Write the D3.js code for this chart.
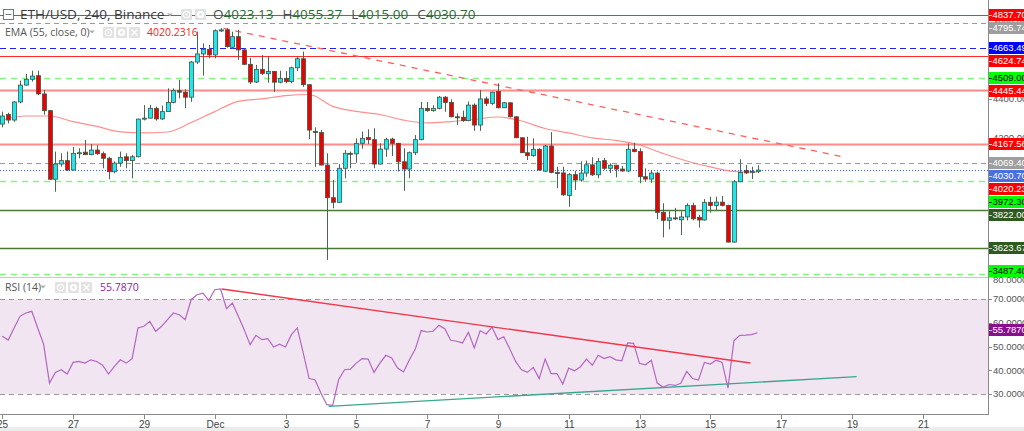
<!DOCTYPE html>
<html>
<head>
<meta charset="utf-8">
<script src="https://cdn.jsdelivr.net/npm/d3@7"></script>
<style>
  body { margin: 0; background: #fff; overflow: hidden; }
  svg { display: block; font-family: 'Open Sans', Roboto, 'DejaVu Sans', sans-serif; }
  .ax { font-family: 'Liberation Sans', Arial, sans-serif; }
</style>
</head>
<body>
<svg id="chart" width="1024" height="431"></svg>
<script>
// ETH/USD 4h candles, Nov 25 -> Dec 16
const opens = [
  4270,4320,4291,4385,4473,4503,4522,4427,4340,3983,
  4062,4080,4031,4118,4124,4111,4135,4116,4092,4022,
  4067,4100,4080,4100,4296,4301,4352,4297,4335,4383,
  4444,4436,4410,4593,4635,4659,4630,4756,4760,4670,
  4725,4656,4581,4489,4555,4532,4544,4488,4508,4491,
  4563,4610,4475,4232,4226,4057,3887,3863,4040,4118,
  4115,4170,4200,4189,4062,4140,4192,4170,4074,4036,
  4121,4189,4352,4340,4352,4410,4383,4308,4306,4288,
  4369,4265,4401,4378,4440,4355,4381,4308,4199,4121,
  4106,4139,4025,4156,4018,4016,3898,4007,3979,4015,
  4058,4006,4080,4040,4056,4036,4026,4139,4127,3996,
  3984,4015,3811,3769,3782,3772,3787,3846,3785,3771,
  3863,3846,3864,3847,3656,3970,4028,4020,4023.13
];
const highs = [
  4335,4329,4390,4496,4531,4548,4548,4447,4342,4127,
  4118,4127,4151,4144,4187,4166,4160,4127,4100,4076,
  4127,4118,4110,4298,4369,4369,4361,4366,4456,4456,
  4500,4451,4598,4751,4690,4682,4763,4769,4770,4751,
  4760,4664,4614,4578,4630,4619,4546,4548,4546,4569,
  4619,4647,4477,4253,4239,4118,3979,4062,4135,4127,
  4196,4231,4243,4248,4170,4199,4199,4172,4144,4127,
  4213,4385,4385,4368,4416,4416,4399,4326,4340,4387,
  4378,4447,4413,4439,4482,4385,4383,4310,4201,4204,
  4196,4144,4161,4228,4048,4048,4015,4027,4076,4080,
  4097,4094,4094,4066,4058,4052,4170,4173,4144,4040,
  4027,4022,3858,3816,3834,3816,3858,3861,3797,3880,
  3892,3892,3896,3850,3979,4087,4057,4048,4055.37
];
const lows = [
  4253,4274,4282,4378,4470,4491,4421,4319,3980,3918,
  4048,4027,4029,4092,4109,4108,4110,4040,3983,4014,
  4048,4040,3988,4097,4289,4298,4288,4291,4333,4378,
  4404,4353,4386,4583,4522,4612,4612,4749,4668,4661,
  4604,4577,4478,4484,4525,4485,4437,4482,4482,4482,
  4546,4464,4192,4048,4055,3563,3832,3860,3988,4040,
  4069,4142,4166,4040,4060,4100,4104,4023,3923,3988,
  4109,4186,4334,4334,4347,4334,4305,4265,4282,4285,
  4235,4235,4364,4369,4352,4354,4305,4197,4120,4083,
  4100,4027,4020,4014,3936,3896,3840,3927,3970,3996,
  4000,3988,4031,4015,3993,4022,4021,4123,3962,3970,
  3965,3775,3681,3722,3771,3693,3769,3769,3731,3768,
  3809,3823,3842,3654,3653,3968,4010,3984,4015.00
];
const closes = [
  4312,4291,4385,4473,4503,4520,4427,4340,3983,4062,
  4080,4031,4118,4121,4111,4135,4116,4092,4022,4067,
  4097,4080,4100,4296,4301,4352,4297,4335,4383,4444,
  4436,4410,4593,4635,4659,4630,4756,4760,4673,4725,
  4656,4581,4489,4555,4534,4544,4488,4508,4491,4563,
  4610,4475,4239,4226,4057,3887,3863,4040,4118,4115,
  4170,4196,4189,4062,4140,4189,4170,4074,4036,4121,
  4189,4352,4340,4352,4410,4383,4308,4306,4288,4369,
  4265,4401,4378,4436,4355,4381,4308,4199,4121,4106,
  4139,4031,4156,4018,4016,3902,4007,3979,4015,4058,
  4006,4076,4040,4056,4036,4026,4139,4127,3996,3984,
  4015,3811,3769,3782,3777,3787,3846,3777,3771,3863,
  3846,3864,3847,3656,3970,4018,4016,4023,4030.70
];

// EMA(55) read every 4th candle
const emaStep = 4;
const emaValues = [
  4291,4312,4312,4283,4258,4230,4224,4229,4278,4335,4388,4401,4418,4424,4362,4336,
  4320,4291,4276,4283,4294,4307,4286,4247,4224,4198,4185,4161,4117,4078,4047,4024,4020.2316
];

// RSI(14), one value per candle
const rsiValues = [
  54.3,52.7,57.8,62.7,64.1,64.8,57.8,51.0,34.6,39.1,
  40.2,38.4,43.3,43.7,43.0,44.4,43.7,42.1,38.4,41.6,
  44.4,43.0,44.9,57.8,58.5,60.6,56.4,58.5,61.3,64.1,
  63.4,61.3,69.7,71.8,72.5,69.4,73.9,74.2,65.9,68.3,
  62.7,57.1,50.8,54.7,52.9,53.3,49.8,51.0,49.8,55.0,
  57.8,47.3,36.5,36.0,30.4,25.5,25.2,36.0,40.2,40.5,
  43.0,44.9,44.7,39.1,43.0,46.3,45.2,40.9,39.3,44.4,
  48.9,56.7,56.1,56.4,58.9,57.5,52.6,52.2,51.5,56.0,
  49.4,56.7,55.3,58.2,52.9,54.1,49.1,43.7,40.2,39.1,
  41.2,36.5,44.7,38.6,38.6,34.2,40.9,39.8,41.5,44.7,
  42.1,46.3,44.9,45.7,44.4,44.0,51.5,51.3,42.9,42.3,
  44.2,34.6,32.8,34.0,33.6,34.5,39.5,36.5,35.9,43.3,
  42.6,44.2,43.3,32.5,52.4,54.7,54.8,55.0,55.787
];

// x axis: one label every 12 candles (2 days)
const dayLabels = ['25','27','29','Dec','3','5','7','9','11','13','15','17','19','21'];
const candlesPerLabel = 12;

// horizontal levels drawn on the price pane
const levelPrices = [4837.70, 4795.74, 4663.49, 4624.74, 4509.00, 4445.44, 4167.56, 4069.40, 3972.30, 3822.00, 3623.67, 3487.40];
const levelKinds  = ['res', 'grey', 'blue', 'res', 'green', 'zone', 'zone', 'grey', 'green', 'sup', 'sup', 'green'];

// trend lines as [candle index, value]
const priceTrend = [[37.5, 4768], [142.9, 4097]];
const rsiTrendDown = [[37.2, 74.2], [126.8, 43.05]];
const rsiTrendUp = [[55.3, 24.8], [144.8, 37.3]];

const priceTicks = [3600, 3800, 4000, 4200, 4400, 4600, 4800];
const rsiTicks = [30, 40, 50, 60, 70, 80];

// ---------------------------------------------------------------
const kindStyle = {
  res:   { stroke: '#ff2a2a', width: 1,   dash: null,  bg: '#ff0000', fg: '#fff' },
  grey:  { stroke: '#9a9a9a', width: 1,   dash: '5,4', bg: '#9e9e9e', fg: '#fff' },
  blue:  { stroke: '#2020ee', width: 1,   dash: '6,4', bg: '#0000ff', fg: '#fff' },
  green: { stroke: '#80f880', width: 1.6, dash: '6,5', bg: '#00ff00', fg: '#000' },
  zone:  { stroke: '#ff8a8a', width: 2,   dash: null,  bg: '#ff0000', fg: '#fff' },
  sup:   { stroke: '#4c7a34', width: 1.3, dash: null,  bg: '#2f5a1f', fg: '#fff' }
};

const plotRight = 988;
const priceBottom = 277;
const rsiTop = 278, rsiBottom = 414;

const svg = d3.select('#chart');
const defs = svg.append('defs');
defs.append('clipPath').attr('id', 'clipPrice').append('rect')
  .attr('x', 0).attr('y', 0).attr('width', plotRight).attr('height', priceBottom);
defs.append('clipPath').attr('id', 'clipRsi').append('rect')
  .attr('x', 0).attr('y', rsiTop).attr('width', plotRight).attr('height', rsiBottom - rsiTop);

const x = d3.scaleLinear().domain([0, 128]).range([2.3, 757.5]);
const y = d3.scaleLinear().domain([4837.7, 3623.67]).range([15, 248.3]);
const yr = d3.scaleLinear().domain([70, 30]).range([299, 394]);

const candles = closes.map((c, i) => ({ i, o: opens[i], h: highs[i], l: lows[i], c }));
const crisp = v => Math.round(v) + 0.5;

svg.append('rect').attr('width', 1024).attr('height', 431).attr('fill', '#fff');

// ---------------- price pane ----------------
const price = svg.append('g').attr('clip-path', 'url(#clipPrice)');

levelPrices.forEach((p, k) => {
  const s = kindStyle[levelKinds[k]];
  price.append('line')
    .attr('x1', 0).attr('x2', plotRight)
    .attr('y1', crisp(y(p))).attr('y2', crisp(y(p)))
    .attr('stroke', s.stroke).attr('stroke-width', s.width)
    .attr('stroke-dasharray', s.dash);
});

const lastClose = closes[closes.length - 1];
const lastEma = emaValues[emaValues.length - 1];
price.append('line')
  .attr('x1', 0).attr('x2', plotRight)
  .attr('y1', crisp(y(lastClose))).attr('y2', crisp(y(lastClose)))
  .attr('stroke', '#3a5bff').attr('stroke-dasharray', '1,2');

// EMA
price.append('path')
  .datum(emaValues)
  .attr('fill', 'none')
  .attr('stroke', '#ff7b7b').attr('stroke-width', 1.2).attr('stroke-opacity', 0.85)
  .attr('d', d3.line().curve(d3.curveMonotoneX).x((d, i) => x(i * emaStep)).y(d => y(d)));

// price trend line
price.append('line')
  .attr('x1', x(priceTrend[0][0])).attr('y1', y(priceTrend[0][1]))
  .attr('x2', x(priceTrend[1][0])).attr('y2', y(priceTrend[1][1]))
  .attr('stroke', '#ff5f5f').attr('stroke-width', 1.3).attr('stroke-dasharray', '6,6');

// candles
const cg = price.selectAll('g.candle').data(candles).enter().append('g').attr('class', 'candle');
cg.append('line')
  .attr('x1', d => crisp(x(d.i))).attr('x2', d => crisp(x(d.i)))
  .attr('y1', d => y(d.h)).attr('y2', d => y(d.l))
  .attr('stroke', '#4a6650').attr('stroke-width', 1);
cg.append('rect')
  .attr('x', d => Math.round(x(d.i)) - 1.5)
  .attr('width', 4)
  .attr('y', d => y(Math.max(d.o, d.c)))
  .attr('height', d => Math.max(1, Math.abs(y(d.o) - y(d.c))))
  .attr('fill', d => d.c >= d.o ? '#1ee8ee' : '#ee0000')
  .attr('stroke', '#3d5544').attr('stroke-width', 0.8);

// ---------------- rsi pane ----------------
const rsi = svg.append('g').attr('clip-path', 'url(#clipRsi)');
rsi.append('rect')
  .attr('x', 0).attr('width', plotRight)
  .attr('y', yr(70)).attr('height', yr(30) - yr(70))
  .attr('fill', '#f2e5f2');
[70, 30].forEach(v => {
  rsi.append('line').attr('x1', 0).attr('x2', plotRight)
    .attr('y1', crisp(yr(v))).attr('y2', crisp(yr(v)))
    .attr('stroke', '#9a9a9a').attr('stroke-dasharray', '5,4');
});
rsi.append('path')
  .datum(rsiValues)
  .attr('fill', 'none')
  .attr('stroke', '#b466c2').attr('stroke-width', 1.2)
  .attr('d', d3.line().x((d, i) => x(i)).y(d => yr(d)));
rsi.append('line')
  .attr('x1', x(rsiTrendDown[0][0])).attr('y1', yr(rsiTrendDown[0][1]))
  .attr('x2', x(rsiTrendDown[1][0])).attr('y2', yr(rsiTrendDown[1][1]))
  .attr('stroke', '#f0384a').attr('stroke-width', 1.4);
rsi.append('line')
  .attr('x1', x(rsiTrendUp[0][0])).attr('y1', yr(rsiTrendUp[0][1]))
  .attr('x2', x(rsiTrendUp[1][0])).attr('y2', yr(rsiTrendUp[1][1]))
  .attr('stroke', '#3aa68e').attr('stroke-width', 1.4);

// ---------------- frames ----------------
svg.append('line').attr('x1', 0).attr('x2', 1024).attr('y1', 277.5).attr('y2', 277.5).attr('stroke', '#c8c8c8');
svg.append('line').attr('x1', 0).attr('x2', plotRight).attr('y1', rsiBottom + 0.5).attr('y2', rsiBottom + 0.5).attr('stroke', '#8a8a8a');
svg.append('line').attr('x1', plotRight + 0.5).attr('x2', plotRight + 0.5).attr('y1', 0).attr('y2', rsiBottom + 1).attr('stroke', '#8a8a8a');
svg.append('rect').attr('x', 0).attr('y', 427).attr('width', 1024).attr('height', 4).attr('fill', '#ececec');

// ---------------- price tags layout (pushed apart) ----------------
const tags = levelPrices.map((p, k) => ({ v: p, yy: y(p), s: kindStyle[levelKinds[k]] }));
tags.push({ v: lastClose, yy: y(lastClose), s: { bg: '#4a6fe3', fg: '#fff' } });
tags.push({ v: lastEma, yy: y(lastEma), s: { bg: '#ff0000', fg: '#fff' } });
tags.sort((a, b) => a.yy - b.yy);
const gap = 13;
tags.forEach((t, k) => { t.pos = k === 0 ? t.yy : Math.max(t.yy, tags[k - 1].pos + gap); });
for (let k = tags.length - 1; k >= 0; k--) {
  const limit = k === tags.length - 1 ? priceBottom - 6 : tags[k + 1].pos - gap;
  tags[k].pos = Math.min(tags[k].pos, limit);
}
const lastRsi = rsiValues[rsiValues.length - 1];
const rsiTagPos = yr(lastRsi) - 3;

// ---------------- right axes ----------------
const axisG = svg.append('g').attr('class', 'ax').style('font-size', '9.5px').attr('fill', '#555');
const covered = (yy, list) => list.some(p => Math.abs(p - yy) < 5);
priceTicks.forEach(p => {
  axisG.append('line').attr('x1', plotRight).attr('x2', plotRight + 4)
    .attr('y1', crisp(y(p))).attr('y2', crisp(y(p))).attr('stroke', '#8a8a8a');
  if (!covered(y(p), tags.map(t => t.pos)))
    axisG.append('text').attr('x', 993).attr('y', y(p)).attr('dy', '0.35em').text(p.toFixed(2));
});
rsiTicks.forEach(v => {
  axisG.append('line').attr('x1', plotRight).attr('x2', plotRight + 4)
    .attr('y1', crisp(yr(v))).attr('y2', crisp(yr(v))).attr('stroke', '#8a8a8a');
  const yy = v === 80 ? yr(v) + 4 : yr(v);
  if (!covered(yy, [rsiTagPos]))
    axisG.append('text').attr('x', 993).attr('y', yy).attr('dy', '0.35em').text(v.toFixed(4));
});

function drawTag(yPos, label, bg, fg) {
  const g = svg.append('g').attr('class', 'ax');
  g.append('rect').attr('x', plotRight + 1).attr('y', Math.round(yPos) - 6)
    .attr('width', 1024 - plotRight).attr('height', 12).attr('fill', bg);
  g.append('line').attr('x1', plotRight + 1).attr('x2', plotRight + 4)
    .attr('y1', crisp(yPos)).attr('y2', crisp(yPos)).attr('stroke', fg).attr('stroke-opacity', 0.7);
  g.append('text').attr('x', 992.5).attr('y', Math.round(yPos)).attr('dy', '0.36em')
    .style('font-size', '9.5px').attr('fill', fg).text(label);
}
tags.forEach(t => drawTag(t.pos, t.v.toFixed(2), t.s.bg, t.s.fg));
drawTag(rsiTagPos, lastRsi.toFixed(4), '#8a0f8f', '#fff');

// ---------------- time axis ----------------
const tg = svg.append('g').attr('class', 'ax').style('font-size', '10px').attr('fill', '#444');
dayLabels.forEach((lab, k) => {
  const xx = crisp(x(k * candlesPerLabel));
  tg.append('line').attr('x1', xx).attr('x2', xx).attr('y1', rsiBottom + 1).attr('y2', rsiBottom + 5).attr('stroke', '#8a8a8a');
  tg.append('text').attr('x', xx).attr('y', 424).attr('dy', '0.35em').attr('text-anchor', 'middle').text(lab);
});

// ---------------- legends ----------------
function iconBox(g, x0, y0, glyph) {
  g.append('rect').attr('x', x0).attr('y', y0).attr('width', 11).attr('height', 11).attr('fill', '#e2e2e2').attr('rx', 1);
  if (glyph === 'eye') {
    g.append('circle').attr('cx', x0 + 5.5).attr('cy', y0 + 5.5).attr('r', 3.2).attr('fill', 'none').attr('stroke', '#fff').attr('stroke-width', 1.2);
    g.append('circle').attr('cx', x0 + 5.5).attr('cy', y0 + 5.5).attr('r', 1).attr('fill', '#fff');
  } else if (glyph === 'gear') {
    g.append('circle').attr('cx', x0 + 5.5).attr('cy', y0 + 5.5).attr('r', 3.6).attr('fill', '#fff');
    g.append('circle').attr('cx', x0 + 5.5).attr('cy', y0 + 5.5).attr('r', 1.4).attr('fill', '#e2e2e2');
  } else {
    g.append('path').attr('d', `M${x0 + 2.5},${y0 + 2.5}L${x0 + 8.5},${y0 + 8.5}M${x0 + 8.5},${y0 + 2.5}L${x0 + 2.5},${y0 + 8.5}`)
      .attr('stroke', '#fff').attr('stroke-width', 1.4);
  }
}
function caret(g, cx, cy) {
  g.append('path').attr('d', `M${cx - 3},${cy - 1.5}L${cx + 3},${cy - 1.5}L${cx},${cy + 1.5}Z`).attr('fill', '#b0b0b0');
}

const hd = svg.append('g');
hd.append('rect').attr('x', 3.5).attr('y', 9.5).attr('width', 10).attr('height', 10).attr('fill', '#fff').attr('stroke', '#777');
hd.append('line').attr('x1', 5.5).attr('x2', 11.5).attr('y1', 14.5).attr('y2', 14.5).attr('stroke', '#777');
hd.append('text').attr('x', 20).attr('y', 19).style('font-size', '13.5px').attr('fill', '#3a3a3a').text('ETH/USD, 240, Binance');
caret(hd, 170, 15);
iconBox(hd, 181, 9, 'eye');
iconBox(hd, 195, 9, 'gear');
const ohlcText = hd.append('text').attr('x', 213).attr('y', 19).style('font-size', '13.5px');
const last = candles[candles.length - 1];
[['O', last.o], ['H', last.h], ['L', last.l], ['C', last.c]].forEach((pair, k) => {
  ohlcText.append('tspan').attr('fill', '#4a4a4a').attr('dx', k === 0 ? 0 : 9).text(pair[0]);
  ohlcText.append('tspan').attr('fill', '#2d6a35').text(pair[1].toFixed(2));
});

hd.append('text').attr('x', 5).attr('y', 36).style('font-size', '10.5px').attr('fill', '#555').text('EMA (55, close, 0)');
caret(hd, 92, 32);
iconBox(hd, 103, 27, 'eye');
iconBox(hd, 116, 27, 'gear');
iconBox(hd, 129, 27, 'x');
hd.append('text').attr('x', 147).attr('y', 36).style('font-size', '10.5px').attr('fill', '#ff2020').text(lastEma.toFixed(4));

hd.append('text').attr('x', 5).attr('y', 291).style('font-size', '10.5px').attr('fill', '#555').text('RSI (14)');
caret(hd, 43, 287);
iconBox(hd, 55, 282, 'eye');
iconBox(hd, 68, 282, 'gear');
iconBox(hd, 81, 282, 'x');
hd.append('text').attr('x', 100).attr('y', 291).style('font-size', '10.5px').attr('fill', '#8e2a9a').text(lastRsi.toFixed(4));
</script>
</body>
</html>
